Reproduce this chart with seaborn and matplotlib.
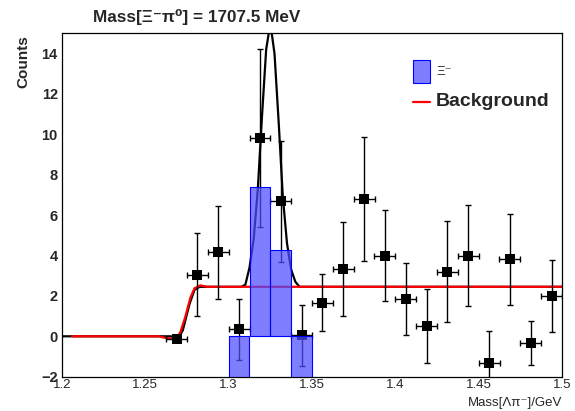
import numpy as np
import pandas as pd
import matplotlib
matplotlib.use("Agg")
import matplotlib.pyplot as plt
import seaborn as sns
from matplotlib.ticker import MultipleLocator, FixedLocator, FixedFormatter
from matplotlib.patches import Rectangle
from matplotlib.lines import Line2D

# ---------------- data ----------------
bin_centers = [1.26875, 1.28125, 1.29375, 1.30625, 1.31875, 1.33125, 1.34375,
               1.35625, 1.36875, 1.38125, 1.39375, 1.40625, 1.41875, 1.43125,
               1.44375, 1.45625, 1.46875, 1.48125, 1.49375]
counts = [-0.15, 3.04, 4.17, 0.35, 9.83, 6.68, 0.05, 1.67, 3.34, 6.81, 3.99,
          1.85, 0.51, 3.19, 3.99, -1.31, 3.82, -0.35, 2.0]
count_errors = [0.0, 2.05, 2.3, 1.5, 4.4, 3.0, 1.5, 1.42, 2.32, 3.06, 2.26,
                1.8, 1.83, 2.5, 2.5, 1.56, 2.25, 1.09, 1.77]
half_bin = 0.00625

mc_centers = [1.30625, 1.31875, 1.33125, 1.34375]
mc_values = [0.0, 7.4, 4.25, 0.0]

bkg_x = [1.206, 1.258, 1.262, 1.266, 1.269, 1.271, 1.274, 1.277, 1.2795, 1.283, 1.287, 1.5]
bkg_y = [0.0, 0.0, -0.08, -0.12, -0.05, 0.2, 0.97, 1.9, 2.38, 2.52, 2.45, 2.45]

tot_x = [1.2, 1.2655, 1.2695, 1.2725, 1.2765, 1.2795, 1.2825, 1.3075, 1.31, 1.3125,
         1.315, 1.3175, 1.32, 1.3225, 1.325, 1.3275, 1.33, 1.3325, 1.335, 1.3375,
         1.34, 1.3425, 1.5]
tot_y = [0.0, 0.0, -0.15, 0.3, 1.6, 2.3, 2.45, 2.45, 2.55, 3.4, 4.8, 7.3, 10.9,
         14.2, 15.5, 14.0, 10.6, 6.9, 4.6, 3.3, 2.7, 2.45, 2.45]

x_tick_values = [1.2, 1.25, 1.3, 1.35, 1.4, 1.45, 1.5]
x_tick_labels = ["1.2", "1.25", "1.3", "1.35", "1.4", "1.45", "1.5"]
y_tick_values = [-2, 0, 2, 4, 6, 8, 10, 12, 14]

title_text = "Mass[\u039e\u207b\u03c0\u2070] = 1707.5 MeV"
xlabel_text = "Mass[\u039b\u03c0\u207b]/GeV"
ylabel_text = "Counts"
legend_labels = ["\u039e\u207b", "Background"]

# ---------------- style ----------------
sns.set_theme(style="white")
plt.rcParams['font.family'] = ['Liberation Sans', 'DejaVu Sans']

fig = plt.figure(figsize=(5.75, 4.11), dpi=100)
ax = fig.add_axes([62/575, 1-376.7/411, 500/575, 343.4/411])
ymin, ymax = -2, 15
ax.set_xlim(1.2, 1.5)
ax.set_ylim(ymin, ymax)

# fit curves
df_tot = pd.DataFrame({"x": tot_x, "y": tot_y})
df_bkg = pd.DataFrame({"x": bkg_x, "y": bkg_y})
sns.lineplot(data=df_tot, x="x", y="y", ax=ax, color="black", lw=1.6,
             sort=False, estimator=None, zorder=2)
sns.lineplot(data=df_bkg, x="x", y="y", ax=ax, color="red", lw=1.6,
             sort=False, estimator=None, zorder=2.5)

# data points
ax.errorbar(bin_centers, counts, yerr=count_errors, xerr=half_bin, fmt="none",
            ecolor="black", elinewidth=1.0, capsize=2, capthick=1.0, zorder=3)
df_pts = pd.DataFrame({"x": bin_centers, "y": counts})
sns.scatterplot(data=df_pts, x="x", y="y", ax=ax, marker="s", s=45,
                color="black", edgecolor="black", linewidth=0, zorder=3.5)

# MC histogram (ROOT-like fill)
for c, v in zip(mc_centers, mc_values):
    if v > 0:
        bot, h = 0.0, v
    else:
        bot, h = ymin, -ymin
    ax.bar(c, h, bottom=bot, width=2*half_bin, color=(0.3, 0.3, 1.0), alpha=0.72,
           edgecolor="none", zorder=4)
    ax.bar(c, h, bottom=bot, width=2*half_bin, fill=False, edgecolor="blue",
           lw=0.8, zorder=4.1)

# axes & ticks
ax.xaxis.set_major_locator(FixedLocator(x_tick_values))
ax.xaxis.set_major_formatter(FixedFormatter(x_tick_labels))
ax.xaxis.set_minor_locator(MultipleLocator(0.01))
ax.yaxis.set_major_locator(FixedLocator(y_tick_values))
ax.yaxis.set_minor_locator(MultipleLocator(0.4))
ax.tick_params(axis="both", which="both", direction="in", top=False, right=False,
               color="black")
ax.tick_params(axis="x", which="major", length=7, width=0.8, labelsize=9.5, pad=2)
ax.tick_params(axis="x", which="minor", length=3.6, width=0.8)
ax.tick_params(axis="y", which="major", length=11.5, width=0.8, labelsize=10.5, pad=3)
ax.tick_params(axis="y", which="minor", length=5.8, width=0.8)
for lab in ax.get_yticklabels():
    lab.set_fontweight("bold")
for sp in ax.spines.values():
    sp.set_color("black")
    sp.set_linewidth(0.9)
ax.set_xlabel("")
ax.set_ylabel("")

# texts
fig.text(93/575, 1-17/411, title_text, ha="left", va="center", fontsize=12.3,
         fontweight="bold")
fig.text(23/575, 1-35/411, ylabel_text, ha="center", va="top", rotation=90,
         fontsize=11, fontweight="bold")
fig.text(562/575, 1-403/411, xlabel_text, ha="right", va="center", fontsize=9.5)

# legend (manual, ROOT-like)
ax.add_patch(Rectangle((0.702, 0.855), 0.034, 0.067, transform=ax.transAxes,
                       facecolor=(0.3, 0.3, 1.0), alpha=0.72, edgecolor="none",
                       zorder=6))
ax.add_patch(Rectangle((0.702, 0.855), 0.034, 0.067, transform=ax.transAxes,
                       fill=False, edgecolor="blue", lw=0.8, zorder=6.1))
ax.add_line(Line2D([0.702, 0.736], [0.80, 0.80], transform=ax.transAxes,
                   color="red", lw=1.6, zorder=6))
ax.text(0.748, 0.888, legend_labels[0], transform=ax.transAxes, ha="left",
        va="center", fontsize=9.5)
ax.text(0.748, 0.80, legend_labels[1], transform=ax.transAxes, ha="left",
        va="center", fontsize=14, fontweight="bold")

fig.savefig("out.png", dpi=100)
